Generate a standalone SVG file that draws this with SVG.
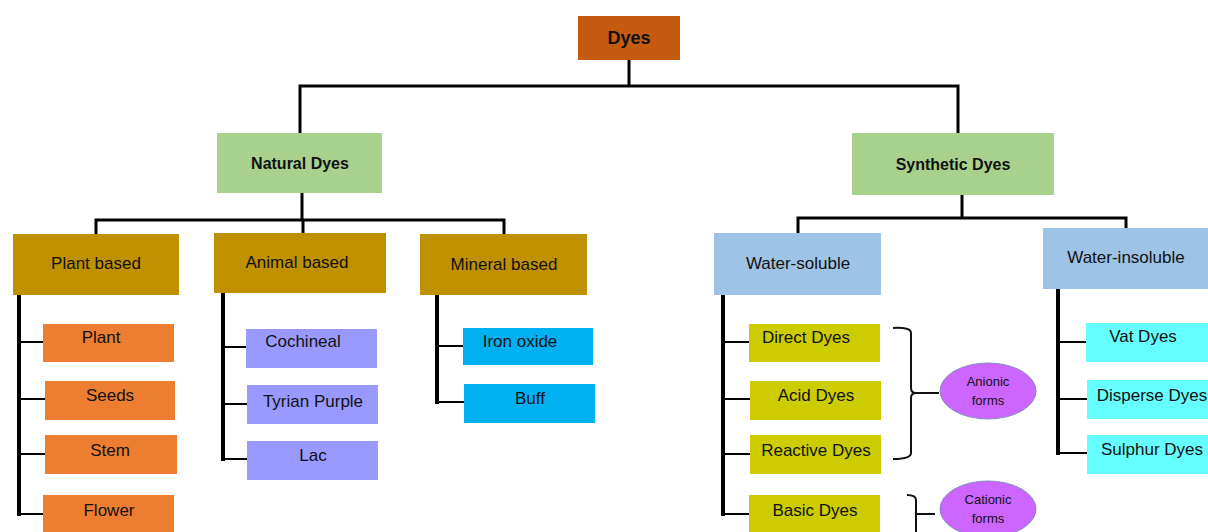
<svg xmlns="http://www.w3.org/2000/svg" width="1208" height="532" viewBox="0 0 1208 532">
<style>
text{font-family:"Liberation Sans",Arial,sans-serif;font-size:17px;fill:#111;text-anchor:middle}
.b{font-weight:bold;font-size:16px}
.s{font-size:13px}
.ln{stroke:#000;fill:none;stroke-linecap:square}
.t3{stroke-width:3}
.t4{stroke-width:4}
.t2{stroke-width:2}
.root{fill:#C55A11}
.grn{fill:#A9D18E}
.gold{fill:#BF9000}
.org{fill:#ED7D31}
.lav{fill:#9999FF}
.cyan{fill:#00B0F0}
.blu{fill:#9DC3E6}
.olv{fill:#CCCC00}
.aq{fill:#66FFFF}
.ell{fill:#CC66FF;stroke:#7F8FBF;stroke-width:1}
</style>
<rect width="1208" height="532" fill="#fff"/>
<g id="connectors">
<path class="ln t3" d="M629 61V86M300 86H958M300 86V133M958 86V133"/>
<path class="ln t3" d="M302 193V220M96 220H504M96 220V234M303 220V233M504 220V234"/>
<path class="ln t3" d="M962 195V218M798 218H1126M798 218V233M1126 218V228"/>
<path class="ln t4" d="M19 295V514"/>
<path class="ln t2" d="M19 342H43M19 399H45M19 454H45M19 514H43"/>
<path class="ln t4" d="M223 293V459"/>
<path class="ln t2" d="M223 347H246M223 404H247M223 459H247"/>
<path class="ln t4" d="M437 295V402"/>
<path class="ln t2" d="M437 346H463M437 402H464"/>
<path class="ln t4" d="M723 295V514"/>
<path class="ln t2" d="M723 342H749M723 399H750M723 454H750M723 514H749"/>
<path class="ln t4" d="M1058 289V453"/>
<path class="ln t2" d="M1058 342H1086M1058 399H1087M1058 453H1087"/>
<path d="M893 328Q911 327 911 333V388Q911 393 916 393H939M916 393Q911 393 911 398V453Q911 459 893 459" fill="none" stroke="#111" stroke-width="2"/>
<path d="M907 495Q916 495 916 500V532M916 514H935" fill="none" stroke="#111" stroke-width="2"/>
</g>
<g id="n-dyes"><rect class="root" x="578" y="16" width="102" height="44"/><text class="b" x="629" y="44" style="font-size:18px">Dyes</text></g>
<g id="n-natural"><rect class="grn" x="217" y="133" width="165" height="60"/><text class="b" x="300" y="169">Natural Dyes</text></g>
<g id="n-synthetic"><rect class="grn" x="852" y="133" width="202" height="62"/><text class="b" x="953" y="170">Synthetic Dyes</text></g>
<g id="n-plantbased"><rect class="gold" x="13" y="234" width="166" height="61"/><text x="96" y="269">Plant based</text></g>
<g id="n-animalbased"><rect class="gold" x="214" y="233" width="172" height="60"/><text x="297" y="268">Animal based</text></g>
<g id="n-mineralbased"><rect class="gold" x="420" y="234" width="167" height="61"/><text x="504" y="270">Mineral based</text></g>
<g id="n-plant"><rect class="org" x="43" y="324" width="131" height="38"/><text x="101" y="343">Plant</text></g>
<g id="n-seeds"><rect class="org" x="45" y="381" width="130" height="39"/><text x="110" y="401">Seeds</text></g>
<g id="n-stem"><rect class="org" x="45" y="435" width="132" height="39"/><text x="110" y="456">Stem</text></g>
<g id="n-flower"><rect class="org" x="43" y="495" width="131" height="40"/><text x="109" y="516">Flower</text></g>
<g id="n-cochineal"><rect class="lav" x="246" y="329" width="131" height="39"/><text x="303" y="347">Cochineal</text></g>
<g id="n-tyrian"><rect class="lav" x="247" y="385" width="131" height="39"/><text x="313" y="407">Tyrian Purple</text></g>
<g id="n-lac"><rect class="lav" x="247" y="441" width="131" height="39"/><text x="313" y="461">Lac</text></g>
<g id="n-iron"><rect class="cyan" x="463" y="328" width="130" height="37"/><text x="520" y="347">Iron oxide</text></g>
<g id="n-buff"><rect class="cyan" x="464" y="384" width="131" height="39"/><text x="530" y="404">Buff</text></g>
<g id="n-watersol"><rect class="blu" x="714" y="233" width="167" height="62"/><text x="798" y="269">Water-soluble</text></g>
<g id="n-waterinsol"><rect class="blu" x="1043" y="228" width="170" height="61"/><text x="1126" y="263">Water-insoluble</text></g>
<g id="n-direct"><rect class="olv" x="749" y="324" width="131" height="38"/><text x="806" y="343">Direct Dyes</text></g>
<g id="n-acid"><rect class="olv" x="750" y="381" width="131" height="39"/><text x="816" y="401">Acid Dyes</text></g>
<g id="n-reactive"><rect class="olv" x="750" y="435" width="131" height="39"/><text x="816" y="456">Reactive Dyes</text></g>
<g id="n-basic"><rect class="olv" x="749" y="495" width="131" height="40"/><text x="815" y="516">Basic Dyes</text></g>
<g id="n-vat"><rect class="aq" x="1086" y="323" width="125" height="39"/><text x="1143" y="342">Vat Dyes</text></g>
<g id="n-disperse"><rect class="aq" x="1087" y="380" width="124" height="39"/><text x="1152" y="401">Disperse Dyes</text></g>
<g id="n-sulphur"><rect class="aq" x="1087" y="435" width="124" height="39"/><text x="1152" y="455">Sulphur Dyes</text></g>
<g id="n-anionic"><ellipse class="ell" cx="988" cy="391" rx="48" ry="28"/><text class="s" x="988" y="386">Anionic</text><text class="s" x="988" y="405">forms</text></g>
<g id="n-cationic"><ellipse class="ell" cx="988" cy="509" rx="48" ry="28"/><text class="s" x="988" y="504">Cationic</text><text class="s" x="988" y="523">forms</text></g>
</svg>
